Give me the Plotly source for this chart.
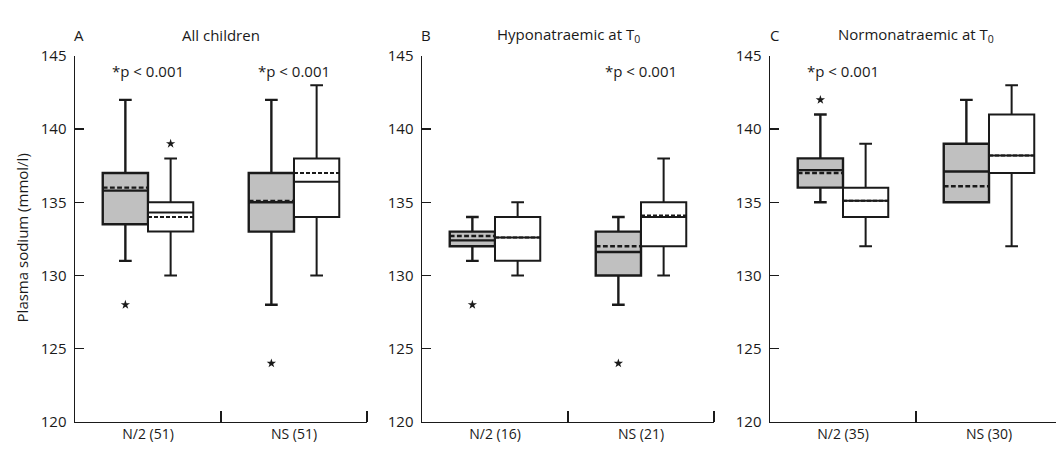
import plotly.graph_objects as go

# ---------------- data ----------------
panel_letters = ["A", "B", "C"]
panel_titles = ["All children", "Hyponatraemic at T<sub>0</sub>", "Normonatraemic at T<sub>0</sub>"]
group_labels = [["N/2 (51)", "NS (51)"], ["N/2 (16)", "NS (21)"], ["N/2 (35)", "NS (30)"]]
y_tick_values = [120, 125, 130, 135, 140, 145]

# order of entries: A N/2, A NS, B N/2, B NS, C N/2, C NS
# shaded boxes (first measurement)
t0_lower = [131, 128, 131, 128, 135, 135]
t0_q1 = [133.5, 133, 132, 130, 136, 135]
t0_median = [135.8, 135, 132.4, 131.6, 137.2, 137.1]
t0_mean = [136, 135.1, 132.7, 132, 137, 136.1]
t0_q3 = [137, 137, 133, 133, 138, 139]
t0_upper = [142, 142, 134, 134, 141, 142]

# open boxes (second measurement)
t1_lower = [130, 130, 130, 130, 132, 132]
t1_q1 = [133, 134, 131, 132, 134, 137]
t1_median = [134.3, 136.4, 132.6, 134, 135.1, 138.2]
t1_mean = [134, 137, 132.6, 134.1, 135.1, 138.2]
t1_q3 = [135, 138, 134, 135, 136, 141]
t1_upper = [138, 143, 135, 138, 139, 143]

# outliers (asterisks)
outlier_panel = [0, 0, 0, 1, 1, 2]
outlier_group = [0, 0, 1, 0, 1, 0]
outlier_series = [0, 1, 0, 0, 0, 0]   # 0 = shaded, 1 = open
outlier_value = [128, 139, 124, 128, 124, 142]

# significance labels
p_panel = [0, 0, 1, 2]
p_group = [0, 1, 1, 0]
p_text = ["*p < 0.001"] * 4

# ---------------- style / layout ----------------
W, H = 1056, 450
x_px = [(75, 367), (422, 714), (770, 1056)]   # page pixels
y_top_px, y_bot_px = 47, 430
font_family = "'Open Sans', 'Noto Sans', sans-serif"
ink = "#1a1a1a"
shade = "rgb(192,192,192)"
boxgap = 0.38
half_box = (1 - boxgap) / 4  # centre offset of each box in a group


def fx(px):
    return px / W


def fy(py):
    return 1 - py / H


fig = go.Figure()

for p in range(3):
    ax = "" if p == 0 else str(p + 1)
    sl = slice(2 * p, 2 * p + 2)
    fig.add_trace(go.Box(
        x=[0, 1], q1=t0_q1[sl], median=t0_median[sl], q3=t0_q3[sl],
        lowerfence=t0_lower[sl], upperfence=t0_upper[sl], mean=t0_mean[sl],
        boxmean=True, boxpoints=False, fillcolor=shade,
        line=dict(color=ink, width=2.4), whiskerwidth=0.28,
        offsetgroup="t0", alignmentgroup="panel%d" % p,
        xaxis="x" + ax, yaxis="y" + ax, showlegend=False, name="T0"))
    fig.add_trace(go.Box(
        x=[0, 1], q1=t1_q1[sl], median=t1_median[sl], q3=t1_q3[sl],
        lowerfence=t1_lower[sl], upperfence=t1_upper[sl], mean=t1_mean[sl],
        boxmean=True, boxpoints=False, fillcolor="white",
        line=dict(color=ink, width=2), whiskerwidth=0.28,
        offsetgroup="t1", alignmentgroup="panel%d" % p,
        xaxis="x" + ax, yaxis="y" + ax, showlegend=False, name="T1"))

# outliers
for p in range(3):
    ax = "" if p == 0 else str(p + 1)
    xs, ys = [], []
    for pp, g, s, v in zip(outlier_panel, outlier_group, outlier_series, outlier_value):
        if pp == p:
            xs.append(g + (-half_box if s == 0 else half_box))
            ys.append(v)
    fig.add_trace(go.Scatter(x=xs, y=ys, mode="markers",
                             marker=dict(symbol="star", size=7, color=ink),
                             xaxis="x" + ax, yaxis="y" + ax, showlegend=False,
                             cliponaxis=False))

layout = dict(
    width=W, height=H, margin=dict(l=0, r=0, t=0, b=0),
    paper_bgcolor="white", plot_bgcolor="white",
    boxmode="group", boxgap=boxgap, boxgroupgap=0,
    font=dict(family=font_family, color=ink, size=14),
    showlegend=False,
)
annotations = []
for p in range(3):
    ax = "" if p == 0 else str(p + 1)
    x0, x1 = x_px[p]
    span_units = (x1 - x0) / ((x_px[0][1] - x_px[0][0]) / 2.0)
    layout["xaxis" + ax] = dict(
        domain=[fx(x0), min(1.0, fx(x1))], anchor="y" + ax,
        range=[-0.5, -0.5 + span_units],
        tickmode="array", tickvals=[0, 1], ticktext=group_labels[p],
        ticks="", showline=True, linecolor=ink, linewidth=1.5,
        ticklabelstandoff=-1,
        showgrid=False, zeroline=False, tickfont=dict(size=14),
        minor=dict(tickmode="array", tickvals=[0.5, 1.5], ticks="inside",
                   ticklen=11, tickwidth=1.5, tickcolor=ink, showgrid=False),
    )
    layout["yaxis" + ax] = dict(
        domain=[fy(y_bot_px), fy(y_top_px)], anchor="x" + ax,
        range=[120, 145], tickmode="array", tickvals=y_tick_values,
        ticks="inside", ticklen=9, tickwidth=1.5, tickcolor=ink,
        showline=True, linecolor=ink, linewidth=1.5, ticklabelstandoff=4,
        showgrid=False, zeroline=False, tickfont=dict(size=15),
    )
    annotations.append(dict(text=panel_letters[p], xref="x" + ax + " domain", x=0.015,
                            yref="paper", y=fy(25), showarrow=False,
                            xanchor="center", yanchor="middle", font=dict(size=15)))
    annotations.append(dict(text=panel_titles[p], xref="x" + ax, x=0.5,
                            yref="paper", y=fy(25), showarrow=False,
                            xanchor="center", yanchor="middle", font=dict(size=15)))

for p, g, t in zip(p_panel, p_group, p_text):
    ax = "" if p == 0 else str(p + 1)
    annotations.append(dict(text=t, xref="x" + ax, x=g, yref="y" + ax, y=144,
                            showarrow=False, xanchor="center", yanchor="middle",
                            font=dict(size=15)))

annotations.append(dict(text="Plasma sodium (mmol/l)", xref="paper", x=fx(22),
                        yref="paper", y=fy(238), textangle=-90, showarrow=False,
                        xanchor="center", yanchor="middle", font=dict(size=15)))
layout["annotations"] = annotations
fig.update_layout(**layout)

fig.write_html(
    "out.html",
    config={"displayModeBar": False, "staticPlot": True},
    post_script="document.body.style.margin='0px';"
                "document.documentElement.style.overflow='hidden';",
)
